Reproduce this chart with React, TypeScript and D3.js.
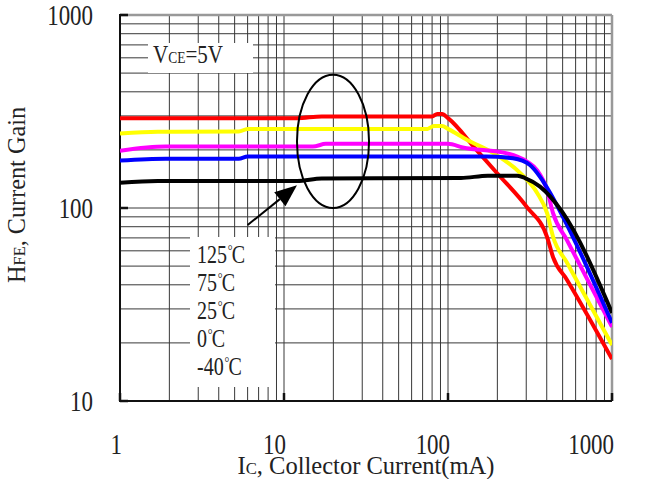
import React from "react";
import * as d3 from "d3";

// hFE vs Ic, log-log, VCE = 5V
const xTicks = [1, 10, 100, 1000];
const yTicks = [10, 100, 1000];
const temps = ["125", "75", "25", "0", "-40"];
const colors = ["#ff0000", "#ffff00", "#ff00ff", "#0000ff", "#000000"];

const ic125 = [1, 12, 17, 80, 86, 92, 100, 150, 200, 303, 402, 437, 532, 1000];
const hfe125 = [292, 292, 298, 298, 307, 307, 292, 199, 151, 101, 70.7, 55.7, 42.4, 16.5];

const ic75 = [1, 1.7, 5.3, 6, 75, 82, 92, 100, 131, 188, 275, 349, 402, 437, 532, 1000];
const hfe75 = [243, 248, 249, 257, 257, 266, 266, 257, 225, 193, 152, 120, 94, 71, 52, 19.5];

const ic25 = [1, 1.9, 15, 18, 100, 123, 229, 303, 349, 402, 437, 532, 1000];
const hfe25 = [198, 208, 208, 215, 215, 206, 192, 174, 157, 124, 94, 68, 24.2];

const ic0 = [1, 1.9, 5.3, 6, 170, 249, 316, 364, 419, 502, 1000];
const hfe0 = [176, 180, 180, 185, 185, 181, 167, 145, 120, 90, 25.4];

const icM40 = [1, 1.7, 12, 17, 120, 175, 265, 295, 364, 419, 495, 1000];
const hfeM40 = [135, 138, 138, 142, 143, 147, 147, 143, 129, 115, 96, 28.6];

const W = 648;
const H = 479;
const margin = { left: 120, right: 36, top: 15, bottom: 78 };
const font = "'Liberation Serif', 'Times New Roman', serif";

const App = () => {
  const x = d3
    .scaleLog()
    .domain([xTicks[0], xTicks[xTicks.length - 1]])
    .range([margin.left, W - margin.right]);
  const y = d3
    .scaleLog()
    .domain([yTicks[0], yTicks[yTicks.length - 1]])
    .range([H - margin.bottom, margin.top]);

  const [x0, x1] = x.range();
  const [y0, y1] = y.range(); // y0 bottom, y1 top

  const series = [
    { ic: ic125, hfe: hfe125 },
    { ic: ic75, hfe: hfe75 },
    { ic: ic25, hfe: hfe25 },
    { ic: ic0, hfe: hfe0 },
    { ic: icM40, hfe: hfeM40 },
  ];

  const lineFor = (s: { ic: number[]; hfe: number[] }) =>
    d3
      .line<number>()
      .x((d) => x(d))
      .y((_, i) => y(s.hfe[i]))
      .curve(d3.curveMonotoneX)(s.ic) || "";

  // annotation ellipse / arrow placed in data space
  const ell = {
    cx: (x(12) + x(33)) / 2,
    cy: (y(490) + y(100)) / 2,
    rx: (x(33) - x(12)) / 2,
    ry: (y(100) - y(490)) / 2,
  };
  const tail = [x(6), y(81.6)];
  const tip = [x(12), y(131)];
  const ang = Math.atan2(tip[1] - tail[1], tip[0] - tail[0]);
  const headLen = 22;
  const headW = 9;
  const bx = tip[0] - headLen * Math.cos(ang);
  const by = tip[1] - headLen * Math.sin(ang);
  const head = [
    [tip[0], tip[1]],
    [bx + headW * Math.sin(ang), by - headW * Math.cos(ang)],
    [bx - headW * Math.sin(ang), by + headW * Math.cos(ang)],
  ];

  return (
    <svg
      width={W}
      height={H}
      style={{ position: "absolute", left: 0, top: 0, background: "#fff" }}
      fontFamily={font}
    >
      <defs>
        <clipPath id="plot">
          <rect x={x0} y={y1} width={x1 - x0} height={y0 - y1} />
        </clipPath>
      </defs>

      {/* grid */}
      <g stroke="#383838" strokeWidth={1}>
        {x.ticks().map((t, i) => (
          <line key={"gx" + i} x1={x(t)} x2={x(t)} y1={y1} y2={y0} />
        ))}
        {y.ticks().map((t, i) => (
          <line key={"gy" + i} x1={x0} x2={x1} y1={y(t)} y2={y(t)} />
        ))}
      </g>

      {/* white label boxes */}
      <rect x={148} y={43} width={105} height={30} fill="#fff" />
      <rect x={190} y={237} width={85} height={150} fill="#fff" />

      {/* border */}
      <line x1={x0} x2={x1} y1={y1} y2={y1} stroke="#999" strokeWidth={2.5} />
      <line x1={x1} x2={x1} y1={y1} y2={y0} stroke="#999" strokeWidth={2.5} />
      <line x1={x0} x2={x0} y1={y1 - 1} y2={y0 + 1} stroke="#111" strokeWidth={2} />
      <line x1={x0 - 1} x2={x1} y1={y0} y2={y0} stroke="#111" strokeWidth={2} />
      <g stroke="#111" strokeWidth={2.5}>
        {yTicks.map((t) => (
          <line key={"ty" + t} x1={x0} x2={x0 + 8} y1={y(t)} y2={y(t)} />
        ))}
        {xTicks.map((t) => (
          <line key={"tx" + t} x1={x(t)} x2={x(t)} y1={y0} y2={y0 - 8} />
        ))}
      </g>

      {/* curves */}
      <g clipPath="url(#plot)" fill="none" strokeWidth={4} strokeLinejoin="round">
        {series.map((s, i) => (
          <path key={i} d={lineFor(s)} stroke={colors[i]} />
        ))}
      </g>

      {/* ellipse + arrow */}
      <ellipse {...ell} fill="none" stroke="#000" strokeWidth={2} />
      <line x1={tail[0]} y1={tail[1]} x2={bx} y2={by} stroke="#000" strokeWidth={2} />
      <polygon points={head.map((p) => p.join(",")).join(" ")} fill="#000" />

      {/* tick labels */}
      <g fontSize={29} fill="#222">
        {yTicks.map((t) => (
          <g key={"ly" + t} transform={`translate(93,${y(t) + 10}) scale(0.79,1)`}>
            <text textAnchor="end">{t}</text>
          </g>
        ))}
        {xTicks.map((t) => (
          <g key={"lx" + t} transform={`translate(${x(t) + 2},454) scale(0.79,1)`}>
            <text textAnchor="end">{t}</text>
          </g>
        ))}
      </g>

      {/* legend */}
      <g fontSize={25} fill="#222">
        {temps.map((t, i) => (
          <g key={t} transform={`translate(197,${263 + i * 28}) scale(0.8,1)`}>
            <text>
              {t}
              <tspan fontSize={15} dx={1} dy={-8}>°</tspan>
              <tspan dx={-1} dy={8}>C</tspan>
            </text>
          </g>
        ))}
      </g>

      {/* VCE label */}
      <text x={153} y={63} fontSize={25} fill="#222" textLength={70} lengthAdjust="spacingAndGlyphs">
        V<tspan fontSize={16}>CE</tspan>=5V
      </text>

      {/* axis titles */}
      <text
        x={(x0 + x1) / 2}
        y={474}
        fontSize={25}
        fill="#222"
        textAnchor="middle"
        textLength={257}
        lengthAdjust="spacingAndGlyphs"
      >
        I<tspan fontSize={17}>C</tspan>, Collector Current(mA)
      </text>
      <text
        transform="translate(25,195) rotate(-90)"
        fontSize={25}
        fill="#222"
        textAnchor="middle"
        textLength={176}
        lengthAdjust="spacingAndGlyphs"
      >
        H<tspan fontSize={17}>FE</tspan>, Current Gain
      </text>
    </svg>
  );
};

export default App;
